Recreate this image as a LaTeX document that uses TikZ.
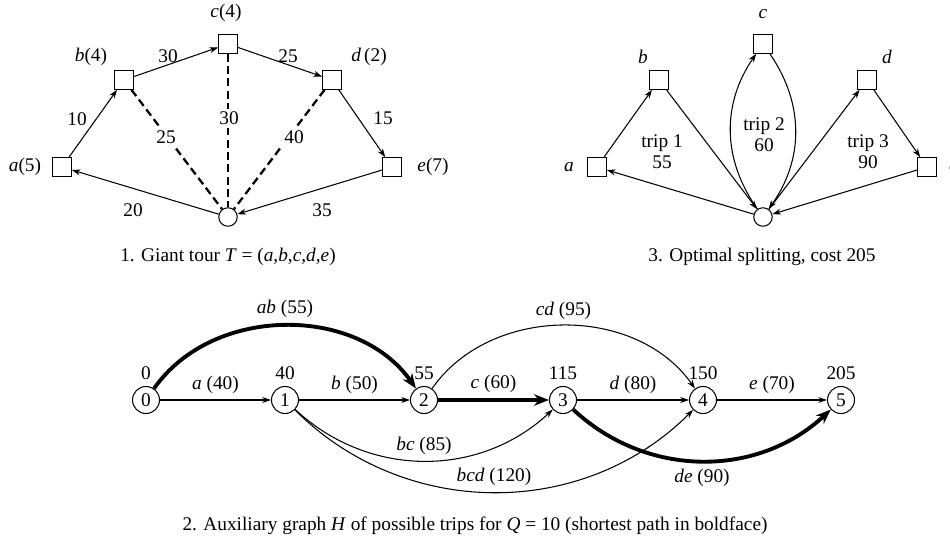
\documentclass[tikz,border=0pt]{standalone}
\usepackage{fontspec}
\setmainfont{Liberation Serif}
\usetikzlibrary{arrows.meta}

\tikzset{
  cust/.style={draw, rectangle, minimum size=0.37cm, inner sep=0pt, line width=0.6pt},
  depot/.style={draw, circle, minimum size=0.37cm, inner sep=0pt, line width=0.6pt},
  vtx/.style={draw, circle, minimum size=0.54cm, inner sep=0pt, line width=0.6pt},
  arc/.style={-{Stealth[length=5pt,width=3.4pt]}, line width=0.6pt},
  boldarc/.style={-{Stealth[length=8.5pt,width=6.5pt]}, line width=2.2pt},
  tourarc/.style={line width=1.3pt, dash pattern=on 4.5pt off 2.5pt},
  cutlabel/.style={fill=white, inner sep=1.5pt},
}

\begin{document}
\begin{tikzpicture}[x=0.02cm, y=-0.02cm, font=\fontsize{11}{12}\selectfont]
\useasboundingbox (0,0) rectangle (950,547);
% 1. giant tour
\begin{scope}[shift={(0,0)}]
\node[cust] (ta) at (62,167) {};
\node[cust] (tb) at (124,80) {};
\node[cust] (tc) at (228,44) {};
\node[cust] (td) at (332,80) {};
\node[cust] (te) at (392,167) {};
\node[depot] (t0) at (228,217) {};
\node (tla) at (25,167) {\textit{a}(5)};
\node (tlb) at (91,57) {\textit{b}(4)};
\node (tlc) at (226,13) {\textit{c}(4)};
\node (tld) at (369,57) {\textit{d}\,(2)};
\node (tle) at (433,167) {\textit{e}(7)};
\draw[arc] (ta) -- (tb);
\draw[arc] (tb) -- (tc);
\draw[arc] (tc) -- (td);
\draw[arc] (td) -- (te);
\draw[arc] (te) -- (t0);
\draw[arc] (t0) -- (ta);
\draw[tourarc] (tb) -- (t0);
\draw[tourarc] (tc) -- (t0);
\draw[tourarc] (td) -- (t0);
\node (tw1) at (77,119) {10};
\node (tw2) at (168,56) {30};
\node (tw3) at (288,56) {25};
\node (tw4) at (383,118) {15};
\node (tw5) at (322,210) {35};
\node (tw6) at (133,210) {20};
\node[cutlabel] (tw7) at (166,137) {25};
\node[cutlabel] (tw8) at (229,118) {30};
\node[cutlabel] (tw9) at (294,137) {40};
\node (tcap) at (228,257) {1. Giant tour \textit{T} = (\textit{a},\textit{b},\textit{c},\textit{d},\textit{e})};
\end{scope}
% 3. optimal splitting
\begin{scope}[shift={(535,0)}]
\node[cust] (sa) at (62,167) {};
\node[cust] (sb) at (124,80) {};
\node[cust] (sc) at (228,44) {};
\node[cust] (sd) at (332,80) {};
\node[cust] (se) at (392,167) {};
\node[depot] (s0) at (228,217) {};
\node (sla) at (34,167) {\textit{a}};
\node (slb) at (108,57) {\textit{b}};
\node (slc) at (228,14) {\textit{c}};
\node (sld) at (352,57) {\textit{d}};
\node[anchor=west] (sle) at (408,167) {\textit{e}};
\draw[arc] (s0) -- (sa);
\draw[arc] (sa) -- (sb);
\draw[arc] (sb) -- (s0);
\draw[arc] (s0) to[bend left=35] (sc);
\draw[arc] (sc) to[bend left=35] (s0);
\draw[arc] (s0) -- (sd);
\draw[arc] (sd) -- (se);
\draw[arc] (se) -- (s0);
\node[align=center] (st1) at (127,152) {trip 1\\55};
\node[align=center] (st2) at (229,135) {trip 2\\60};
\node[align=center] (st3) at (333,152) {trip 3\\90};
\node (scap) at (227,257) {3. Optimal splitting, cost 205};
\end{scope}
% 2. auxiliary graph
\node[vtx, label=above:0] (v0) at (146,400) {0};
\node[vtx, label=above:40] (v1) at (285,400) {1};
\node[vtx, label=above:55] (v2) at (424,400) {2};
\node[vtx, label=above:115] (v3) at (563,400) {3};
\node[vtx, label=above:150] (v4) at (703,400) {4};
\node[vtx, label=above:205] (v5) at (841,400) {5};
\draw[arc] (v0) -- node[above] {\textit{a} (40)} (v1);
\draw[arc] (v1) -- node[above] {\textit{b} (50)} (v2);
\draw[boldarc] (v2) -- node[above] {\textit{c} (60)} (v3);
\draw[arc] (v3) -- node[above] {\textit{d} (80)} (v4);
\draw[arc] (v4) -- node[above] {\textit{e} (70)} (v5);
\draw[boldarc] (v0) to[bend left=55] node[above] {\textit{ab} (55)} (v2);
\draw[arc] (v2) to[bend left=55] node[above] {\textit{cd} (95)} (v4);
\draw[arc] (v1) to[bend right=43] node[above] {\textit{bc} (85)} (v3);
\draw[arc] (v1) to[bend right=45] node[above] {\textit{bcd} (120)} (v4);
\draw[boldarc] (v3) to[bend right=43] node[below] {\textit{de} (90)} (v5);
\node (hcap) at (475,526) {2. Auxiliary graph \textit{H} of possible trips for \textit{Q} = 10 (shortest path in boldface)};
\end{tikzpicture}
\end{document}
